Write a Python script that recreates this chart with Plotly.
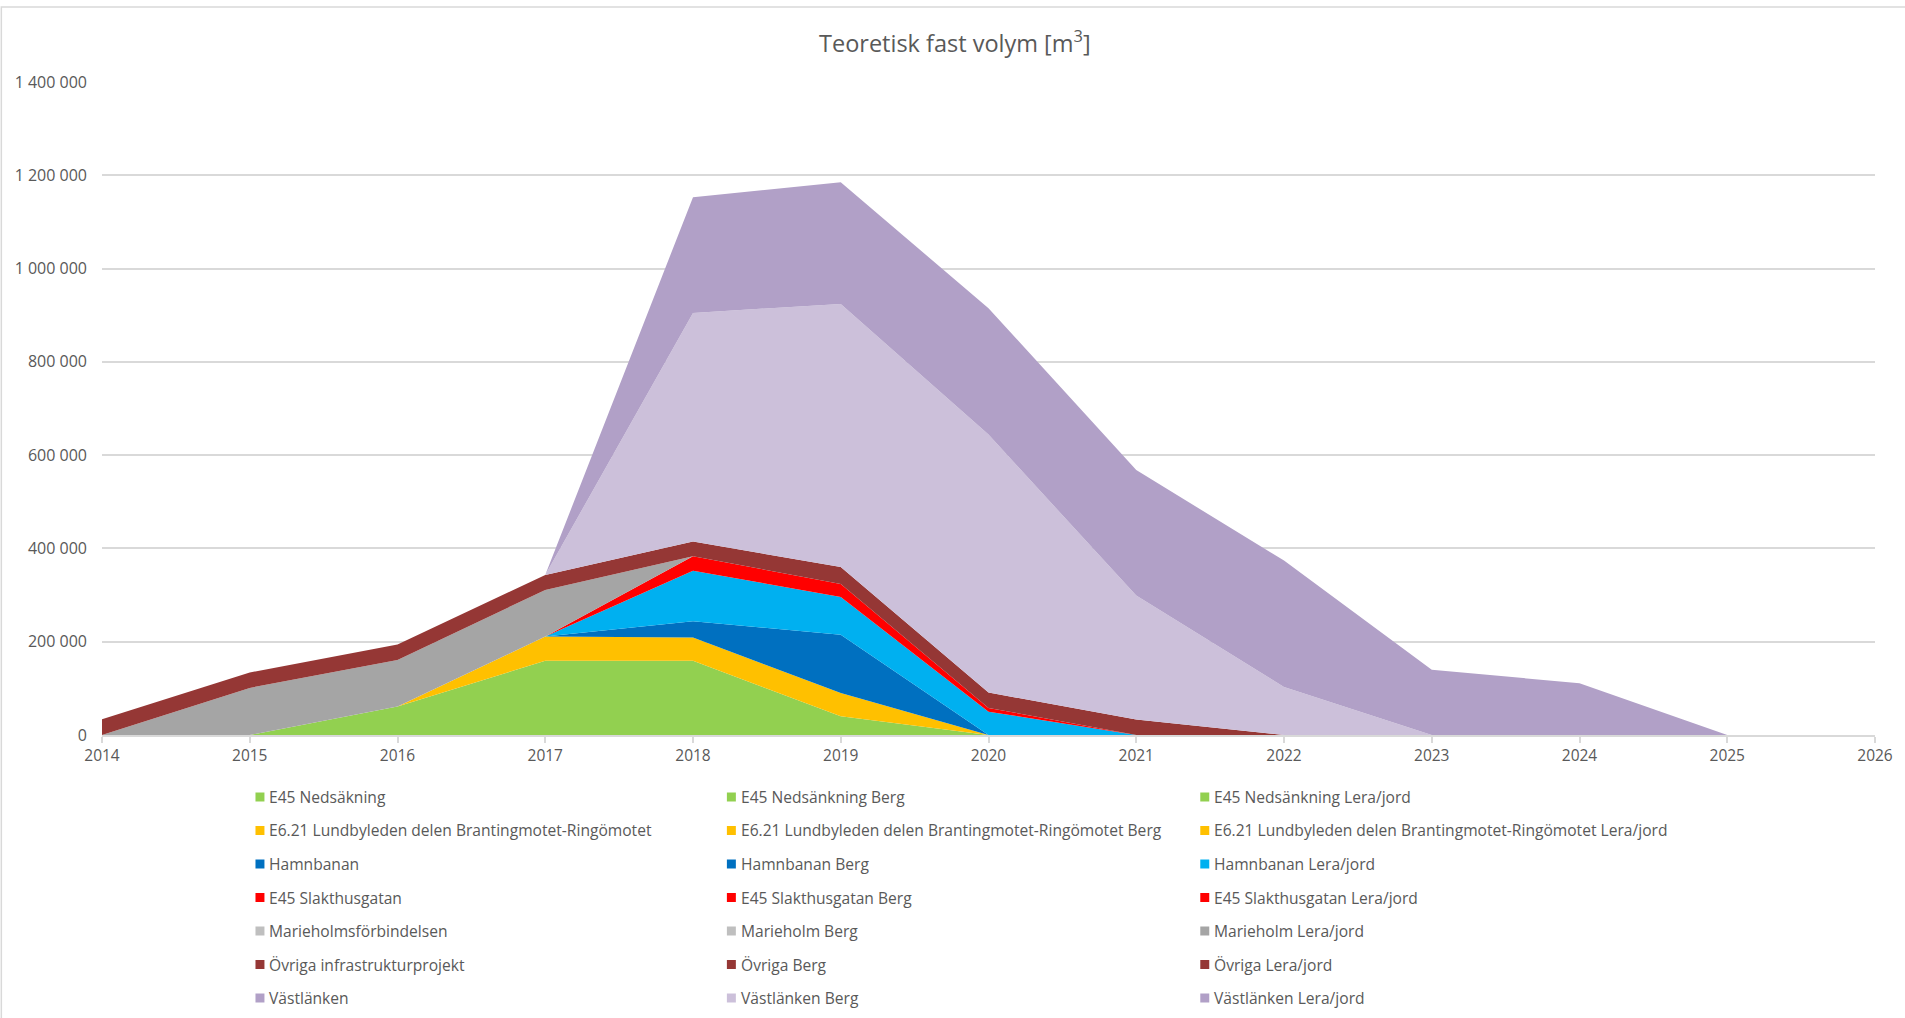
import plotly.graph_objects as go

# ---------------- data ----------------
years = [2014, 2015, 2016, 2017, 2018, 2019, 2020, 2021, 2022, 2023, 2024, 2025, 2026]
y_ticks = [0, 200000, 400000, 600000, 800000, 1000000, 1200000, 1400000]

e45_total = [0, 0, 0, 0, 0, 0, 0, 0, 0, 0, 0, 0, 0]
e45_berg = [0, 0, 0, 0, 0, 0, 0, 0, 0, 0, 0, 0, 0]
e45_lera = [0, 0, 61000, 159000, 159000, 40000, 0, 0, 0, 0, 0, 0, 0]

e621_total = [0, 0, 0, 0, 0, 0, 0, 0, 0, 0, 0, 0, 0]
e621_berg = [0, 0, 0, 0, 0, 0, 0, 0, 0, 0, 0, 0, 0]
e621_lera = [0, 0, 0, 52000, 50000, 50000, 0, 0, 0, 0, 0, 0, 0]

hamn_total = [0, 0, 0, 0, 0, 0, 0, 0, 0, 0, 0, 0, 0]
hamn_berg = [0, 0, 0, 0, 35000, 125000, 0, 0, 0, 0, 0, 0, 0]
hamn_lera = [0, 0, 0, 0, 108000, 81000, 50000, 0, 0, 0, 0, 0, 0]

slakt_total = [0, 0, 0, 0, 0, 0, 0, 0, 0, 0, 0, 0, 0]
slakt_berg = [0, 0, 0, 0, 0, 0, 0, 0, 0, 0, 0, 0, 0]
slakt_lera = [0, 0, 0, 0, 31000, 28000, 8000, 0, 0, 0, 0, 0, 0]

marie_total = [0, 0, 0, 0, 0, 0, 0, 0, 0, 0, 0, 0, 0]
marie_berg = [0, 0, 0, 0, 0, 0, 0, 0, 0, 0, 0, 0, 0]
marie_lera = [0, 101000, 100000, 100000, 0, 0, 0, 0, 0, 0, 0, 0, 0]

ovriga_total = [0, 0, 0, 0, 0, 0, 0, 0, 0, 0, 0, 0, 0]
ovriga_berg = [0, 0, 0, 0, 0, 0, 0, 0, 0, 0, 0, 0, 0]
ovriga_lera = [34000, 33000, 33000, 32000, 32000, 36000, 33000, 33000, 0, 0, 0, 0, 0]

vast_total = [0, 0, 0, 0, 0, 0, 0, 0, 0, 0, 0, 0, 0]
vast_berg = [0, 0, 0, 0, 490000, 564000, 553000, 266000, 103000, 0, 0, 0, 0]
vast_lera = [0, 0, 0, 0, 248000, 261000, 271000, 269000, 271000, 140000, 111000, 0, 0]

series_names = [
    "E45 Nedsäkning", "E45 Nedsänkning Berg", "E45 Nedsänkning Lera/jord",
    "E6.21 Lundbyleden delen Brantingmotet-Ringömotet",
    "E6.21 Lundbyleden delen Brantingmotet-Ringömotet Berg",
    "E6.21 Lundbyleden delen Brantingmotet-Ringömotet Lera/jord",
    "Hamnbanan", "Hamnbanan Berg", "Hamnbanan Lera/jord",
    "E45 Slakthusgatan", "E45 Slakthusgatan Berg", "E45 Slakthusgatan Lera/jord",
    "Marieholmsförbindelsen", "Marieholm Berg", "Marieholm Lera/jord",
    "Övriga infrastrukturprojekt", "Övriga Berg", "Övriga Lera/jord",
    "Västlänken", "Västlänken Berg", "Västlänken Lera/jord",
]
series_colors = [
    "#92D050", "#92D050", "#92D050",
    "#FFC000", "#FFC000", "#FFC000",
    "#0070C0", "#0070C0", "#00B0F0",
    "#FF0000", "#FF0000", "#FF0000",
    "#BFBFBF", "#BFBFBF", "#A5A5A5",
    "#953735", "#953735", "#953735",
    "#B1A0C7", "#CCC0DA", "#B1A0C7",
]
series_values = [
    e45_total, e45_berg, e45_lera,
    e621_total, e621_berg, e621_lera,
    hamn_total, hamn_berg, hamn_lera,
    slakt_total, slakt_berg, slakt_lera,
    marie_total, marie_berg, marie_lera,
    ovriga_total, ovriga_berg, ovriga_lera,
    vast_total, vast_berg, vast_lera,
]

# ---------------- layout geometry (pixels) ----------------
W, H = 1905, 1018
L, R, T, B = 102, 1881, 82, 735
TXT = "#595959"
FONT = "Open Sans"


def px_x(p):
    return (p - L) / (R - L)


def px_y(p):
    return (B - p) / (B - T)


fig = go.Figure()
for name, col, vals in zip(series_names, series_colors, series_values):
    fig.add_trace(go.Scatter(
        x=years, y=vals, name=name, mode="none",
        stackgroup="one", fillcolor=col, showlegend=False,
        hovertemplate="%{x}: %{y}<extra>" + name + "</extra>",
    ))

# manual legend (3 columns, row-major like the original)
col_x = [256, 729, 1204]
row_y0, row_dy = 797, 33.5
annotations = []
shapes = []
for i, (name, col) in enumerate(zip(series_names, series_colors)):
    r, c = divmod(i, 3)
    cx = col_x[c]
    cy = row_y0 + r * row_dy
    shapes.append(dict(type="rect", xref="paper", yref="paper",
                       x0=px_x(cx), x1=px_x(cx + 9), y0=px_y(cy + 4.5), y1=px_y(cy - 4.5),
                       fillcolor=col, line=dict(width=0), layer="above"))
    annotations.append(dict(xref="paper", yref="paper", x=px_x(cx + 12), y=px_y(cy),
                            xanchor="left", yanchor="middle", showarrow=False,
                            text=name, font=dict(family=FONT, size=15.6, color=TXT)))

# title
annotations.append(dict(xref="paper", yref="paper", x=px_x(958), y=px_y(41),
                        xanchor="center", yanchor="middle", showarrow=False,
                        text="Teoretisk fast volym [m<sup>3</sup>]",
                        font=dict(family=FONT, size=23.5, color=TXT)))

# chart-area border (top and left visible)
shapes.append(dict(type="rect", xref="paper", yref="paper",
                   x0=px_x(1), x1=px_x(W + 20), y0=px_y(H + 20), y1=px_y(7),
                   line=dict(color="#D9D9D9", width=1.5), fillcolor="rgba(0,0,0,0)",
                   layer="below"))

fig.update_layout(
    width=W, height=H,
    margin=dict(l=L, r=W - R, t=T, b=H - B, pad=0),
    paper_bgcolor="white", plot_bgcolor="white",
    separators=", ",
    font=dict(family=FONT, size=15, color=TXT),
    showlegend=False,
    annotations=annotations,
    shapes=shapes,
    xaxis=dict(
        range=[years[0], years[-1]], tickmode="array", tickvals=years,
        ticktext=[str(y) for y in years],
        showgrid=False, zeroline=False, showline=True, linecolor="#D9D9D9", linewidth=1.5,
        ticks="outside", ticklen=6, tickcolor="#D9D9D9", tickwidth=1.5,
        tickfont=dict(family=FONT, size=15.5, color=TXT),
    ),
    yaxis=dict(
        range=[0, 1400000], tickmode="array", tickvals=y_ticks,
        tickformat=",d", showgrid=True, gridcolor="#D9D9D9", gridwidth=1.5,
        zeroline=False, showline=False, ticks="", ticklabelstandoff=14,
        tickfont=dict(family=FONT, size=16, color=TXT),
    ),
)

fig.write_html("out.html", config={"displayModeBar": False},
               post_script="document.body.style.margin='0';document.body.style.overflow='hidden';")
